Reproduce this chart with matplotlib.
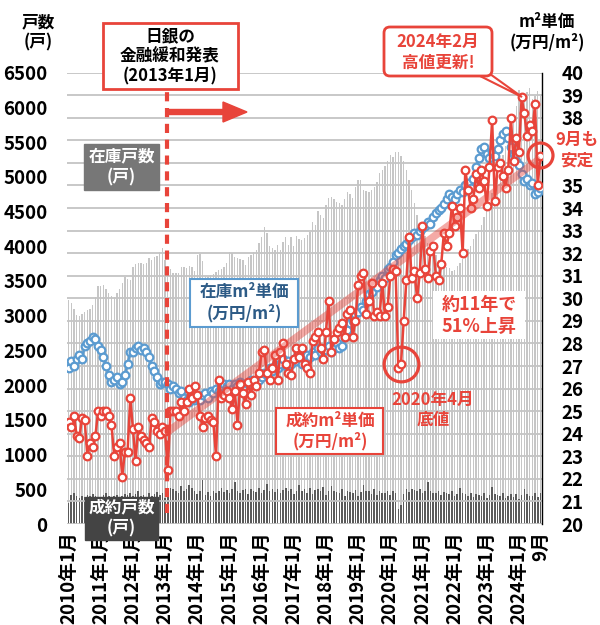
import numpy as np
import matplotlib
matplotlib.use('Agg')
import matplotlib.pyplot as plt
import matplotlib.patches as mpatches
from matplotlib.transforms import IdentityTransform

plt.rcParams['font.family'] = ['Noto Sans CJK JP', 'DejaVu Sans']
plt.rcParams['font.weight'] = 'bold'

RED = '#e8443a'
BLUE = '#5b9bd0'

# 在庫戸数（戸） 2010年1月〜2024年9月
inventory = [
    3220, 3180, 3100, 3010, 2990, 3020, 3050, 3080, 3100, 3150, 3270, 3420,
    3420, 3440, 3380, 3330, 3290, 3270, 3320, 3380, 3470, 3550, 3530, 3510,
    3700, 3740, 3760, 3760, 3750, 3760, 3830, 3800, 3850, 3860, 3920, 3980,
    3800, 3720, 3670, 3620, 3610, 3620, 3700, 3700, 3680, 3720, 3700, 3650,
    3880, 3890, 3780, 3560, 3560, 3590, 3600, 3630, 3660, 3670, 3700, 3760,
    3920, 3900, 3850, 3830, 3810, 3800, 3730, 3850, 3880, 3920, 3950, 4050,
    4130, 4270, 4190, 4000, 3980, 3950, 4020, 3950, 4060, 4130, 4020, 4130,
    4000, 4140, 4100, 4090, 4120, 4160, 4200, 4350, 4300, 4500, 4450, 4410,
    4600, 4700, 4710, 4680, 4640, 4620, 4600, 4680, 4780, 4750, 4700, 4850,
    4960, 4950, 4810, 4800, 4780, 4810, 4850, 4930, 5060, 5100, 5150, 5220,
    5320, 5290, 5350, 5360, 5300, 5220, 5100, 4950, 4810, 4620, 4450, 4300,
    4200, 4150, 4050, 3950, 3900, 3870, 3800, 3760, 3720, 3700, 3680, 3640,
    3660, 3720, 3760, 3820, 3900, 3960, 4010, 4100, 4170, 4230, 4300, 4420,
    4550, 4640, 4760, 4900, 5020, 5150, 5310, 5440, 5580, 5760, 5900, 6020,
    6250, 6180, 6100, 6220, 6280, 6120, 6160, 6230, 6170,
]

# 成約戸数（戸）
contracts = [
    300, 420, 440, 410, 380, 400, 390, 420, 400, 430, 410, 390,
    380, 420, 450, 400, 390, 410, 420, 380, 400, 430, 420, 450,
    400, 430, 470, 410, 420, 390, 440, 410, 430, 460, 420, 440,
    380, 440, 520, 500, 470, 450, 540, 480, 510, 560, 520, 470,
    430, 480, 630, 420, 460, 410, 480, 440, 470, 520, 460, 490,
    440, 500, 600, 470, 450, 490, 510, 430, 500, 480, 460, 520,
    440, 490, 580, 470, 500, 460, 510, 440, 490, 520, 470, 500,
    430, 480, 560, 470, 500, 450, 520, 430, 490, 510, 470, 530,
    420, 470, 550, 480, 460, 440, 500, 410, 480, 460, 450, 490,
    400, 460, 560, 470, 480, 430, 510, 420, 470, 450, 440, 480,
    420, 480, 450, 220, 280, 430, 500, 460, 510, 490, 470, 500,
    450, 480, 610, 470, 450, 440, 480, 420, 460, 440, 430, 470,
    400, 430, 520, 450, 430, 410, 440, 390, 430, 420, 410, 440,
    380, 420, 530, 430, 420, 400, 440, 380, 410, 430, 390, 430,
    360, 420, 500, 430, 410, 400, 440, 390, 450,
]

# 在庫m²単価（万円/m²）
inv_price = [
    26.9, 27.2, 27.0, 27.3, 27.5, 27.3, 27.9, 28.0, 28.1, 28.3, 28.2, 27.9,
    27.7, 27.4, 27.0, 26.6, 26.3, 26.4, 26.5, 26.2, 26.3, 26.6, 27.1, 27.6,
    27.6, 27.8, 27.9, 27.7, 27.8, 27.6, 27.4, 27.0, 26.8, 26.5, 26.2, 26.3,
    26.3, 26.2, 26.0, 26.1, 26.0, 25.8, 25.9, 25.6, 25.5, 25.4, 25.6, 25.5,
    25.6, 25.5, 25.7, 25.8, 25.6, 25.9, 25.8, 26.0, 25.9, 26.1, 26.2, 26.1,
    26.2, 26.0, 26.2, 26.1, 26.3, 26.2, 26.0, 26.2, 26.4, 26.3, 26.2, 26.4,
    26.5, 26.7, 26.6, 26.9, 26.8, 27.0, 26.9, 27.1, 27.3, 27.0, 27.2, 27.1,
    27.3, 27.2, 27.4, 27.1, 27.3, 27.5, 27.4, 27.6, 27.5, 27.8, 27.6, 27.7,
    27.7, 27.9, 27.6, 27.8, 28.0, 27.8, 27.9, 28.3, 28.6, 28.9, 29.0, 29.3,
    29.4, 29.6, 29.5, 29.9, 30.2, 30.3, 30.6, 30.5, 30.8, 31.0, 30.9, 31.3,
    31.4, 31.6, 31.9, 32.0, 32.2, 32.3, 32.4, 32.6, 32.7, 32.9, 32.8, 33.0,
    33.1, 33.2, 33.4, 33.3, 33.6, 33.8, 33.9, 34.0, 34.2, 34.4, 34.6, 34.5,
    34.4, 34.6, 34.8, 34.7, 35.0, 35.1, 34.9, 35.3, 35.8, 36.2, 36.6, 36.7,
    36.4, 36.2, 36.5, 36.3, 36.6, 37.0, 37.3, 37.4, 37.1, 36.7, 36.4, 36.1,
    35.9, 35.5, 35.2, 35.3, 35.0, 35.1, 34.6, 34.7, 34.9,
]

# 成約m²単価（万円/m²）
con_price = [
    24.5, 24.3, 24.8, 23.9, 23.8, 24.7, 24.6, 23.0, 23.6, 23.4, 23.9, 25.0,
    24.8, 25.0, 25.0, 24.8, 24.4, 23.0, 23.4, 23.6, 22.1, 23.2, 23.2, 25.6,
    24.2, 22.8, 24.3, 23.9, 23.7, 23.6, 23.4, 24.7, 24.5, 24.1, 24.0, 24.3,
    24.1, 22.4, 25.0, 25.0, 25.0, 24.8, 25.4, 25.0, 25.4, 26.0, 25.6, 26.1,
    25.7, 24.8, 24.3, 24.7, 24.8, 24.6, 24.5, 23.0, 26.4, 25.6, 25.7, 25.9,
    25.6, 25.1, 25.9, 24.4, 26.2, 25.8, 25.3, 26.3, 25.7, 26.4, 26.1, 26.7,
    27.6, 27.7, 26.7, 26.4, 26.9, 27.5, 26.4, 27.6, 28.0, 27.1, 26.7, 26.6,
    27.3, 27.8, 27.4, 27.8, 27.1, 26.9, 26.7, 28.1, 28.3, 28.5, 27.8, 27.3,
    28.5, 29.9, 27.6, 28.2, 28.5, 28.7, 28.9, 28.3, 29.3, 29.5, 28.3, 29.0,
    30.6, 31.0, 31.1, 29.3, 29.9, 30.7, 29.2, 29.4, 29.2, 30.7, 29.2, 29.6,
    31.0, 31.3, 31.2, 26.9, 27.1, 29.0, 30.8, 32.7, 30.9, 31.2, 30.0, 31.1,
    33.2, 31.3, 30.9, 32.1, 32.3, 31.0, 30.8, 31.5, 32.9, 32.3, 32.9, 34.1,
    33.2, 33.6, 34.0, 32.0, 35.7, 34.8, 34.0, 34.4, 35.5, 34.9, 35.7, 35.2,
    34.1, 35.8, 37.9, 34.3, 35.8, 36.0, 35.4, 34.9, 35.7, 38.0, 36.1, 37.1,
    36.5, 38.9, 38.2, 37.2, 37.7, 37.4, 38.6, 35.0, 36.3,
]

# 成約m²単価の上昇トレンド（2013年1月 → 2024年9月）
trend_month = [36, 176]
trend_value = [24.0, 36.2]

tick_month = [0, 12, 24, 36, 48, 60, 72, 84, 96, 108, 120, 132, 144, 156, 168, 176]
tick_label = ['2010年1月', '2011年1月', '2012年1月', '2013年1月', '2014年1月',
              '2015年1月', '2016年1月', '2017年1月', '2018年1月', '2019年1月',
              '2020年1月', '2021年1月', '2022年1月', '2023年1月', '2024年1月', '9月']

# 右軸ラベル（36・37は「9月も安定」の注記で隠れる）
price_ticks = list(range(20, 41))
price_labels = ['20', '21', '22', '23', '24', '25', '26', '27', '28', '29', '30',
                '31', '32', '33', '34', '35', '', '', '38', '39', '40']

m = np.arange(len(inventory))

W, H = 600, 625
fig = plt.figure(figsize=(W / 100, H / 100), dpi=100)
T = IdentityTransform()


def Y(y):
    # 上からのピクセル位置 → 表示座標
    return H - y


def ftext(x, y, s, **kw):
    fig.text(x, Y(y), s, transform=T, ha='center', va='center', **kw)


def rect(x0, y0, x1, y1, fc, ec, lw=1.5):
    fig.add_artist(mpatches.Rectangle((x0, Y(y1)), x1 - x0, y1 - y0, transform=T,
                                      facecolor=fc, edgecolor=ec, linewidth=lw, zorder=2))


ax = fig.add_axes([67 / W, 1 - 524 / H, 475 / W, 451.4 / H])
ax.bar(m, inventory, width=0.5, color='#c6c6c6', zorder=1)
ax.bar(m, contracts, width=0.6, color='#5a5a5a', zorder=2)
ax.set_xlim(-0.6, 176.6)
ax.set_ylim(0, 6500)
ax.set_yticks(range(0, 6501, 500))
ax.tick_params(axis='y', length=0, pad=14, labelsize=13.5)
ax.set_xticks(tick_month)
ax.set_xticklabels(tick_label, rotation=90, fontsize=13.5)
ax.tick_params(axis='x', length=0, pad=5)
for s in ['top', 'left', 'right', 'bottom']:
    ax.spines[s].set_visible(False)

ax2 = ax.twinx()
ax2.set_ylim(20, 40)
ax2.set_yticks(price_ticks)
ax2.set_yticklabels(price_labels)
ax2.tick_params(axis='y', length=0, pad=14, labelsize=13.5)
ax2.grid(axis='y', color='#c4c4c4', linewidth=1.3, zorder=0)
for s in ['top', 'left', 'bottom']:
    ax2.spines[s].set_visible(False)
ax2.spines['right'].set_color('black')
ax2.spines['right'].set_linewidth(1.0)

ax2.plot(m, inv_price, color=BLUE, lw=1.8, marker='o', ms=5.5, mfc='white',
         mec=BLUE, mew=1.6, zorder=3)
ax2.plot(m, con_price, color=RED, lw=1.8, marker='o', ms=5.5, mfc='white',
         mec=RED, mew=1.6, zorder=4)
ax2.plot(trend_month, trend_value, color=RED, alpha=0.45, lw=5.5,
         solid_capstyle='butt', zorder=5)

# 日銀の金融緩和（2013年1月）
ax2.axvline(36.8, ymin=0.024, ymax=0.957, color=RED, lw=3, dashes=(2.2, 1.6), zorder=6)

# 注目点の丸
ax2.plot([124], [27.1], marker='o', ms=25, mfc='none', mec=RED, mew=2.3, zorder=7)
ax2.plot([176], [36.35], marker='o', ms=18, mfc='none', mec=RED, mew=2.3, zorder=7,
         clip_on=False)

# 軸タイトル
ftext(38, 32, '戸数\n(戸)', fontsize=12, linespacing=1.15)
ftext(547, 32, 'm²単価\n(万円/m²)', fontsize=12, linespacing=1.15)

# 日銀ボックスと矢印
rect(103, 23, 238, 89, 'white', RED, 2)
ftext(170, 56, '日銀の\n金融緩和発表\n(2013年1月)', fontsize=12, linespacing=1.15)
fig.add_artist(mpatches.FancyArrow(167, Y(112), 80, 0, width=5, head_width=20,
                                   head_length=24, length_includes_head=True,
                                   transform=T, color=RED, zorder=2))

# 系列ラベル
rect(84, 144, 159, 190, '#777777', '#777777', 1)
ftext(121.5, 167, '在庫戸数\n(戸)', fontsize=12, color='white', linespacing=1.2)
rect(85, 497, 158, 540, '#444444', '#444444', 1)
ftext(121.5, 518, '成約戸数\n(戸)', fontsize=12, color='white', linespacing=1.2)
rect(190, 279, 298, 327, 'white', BLUE, 1.5)
ftext(244, 303, '在庫m²単価\n(万円/m²)', fontsize=12, color='#2d5b86', linespacing=1.2)
rect(276, 408, 383, 454, 'white', RED, 1.5)
ftext(330, 431, '成約m²単価\n(万円/m²)', fontsize=12, color=RED, linespacing=1.2)

# 注記
rect(433, 291, 525, 339, 'white', 'white', 0)
ftext(479, 315, '約11年で\n51%上昇', fontsize=13, color=RED, linespacing=1.2)
ftext(433, 410, '2020年4月\n底値', fontsize=12, color=RED, linespacing=1.15)
ftext(577, 150, '9月も\n安定', fontsize=12, color=RED, linespacing=1.15)

# 2024年2月 吹き出し
fig.add_artist(mpatches.Polygon([(476, Y(74)), (490, Y(74)), (522, Y(97))], closed=True,
                                transform=T, facecolor='white', edgecolor=RED,
                                linewidth=1.5, zorder=2))
fig.add_artist(mpatches.FancyBboxPatch((384, Y(76)), 108, 49,
                                       boxstyle='round,pad=0,rounding_size=6',
                                       transform=T, facecolor='white', edgecolor=RED,
                                       linewidth=2, zorder=3))
ftext(438, 52, '2024年2月\n高値更新!', fontsize=12, color=RED, linespacing=1.2,
      zorder=4)

fig.savefig('out.png', dpi=100)
